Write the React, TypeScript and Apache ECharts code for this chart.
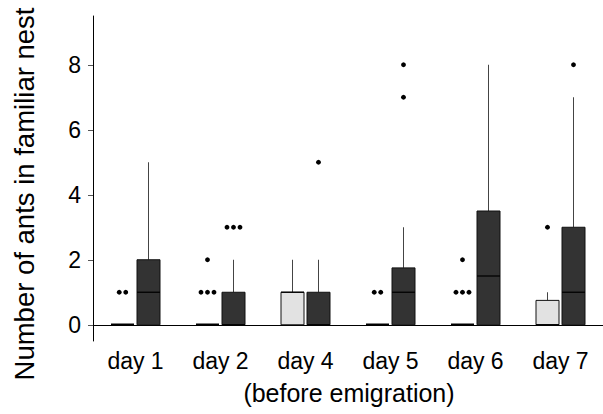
import React, { useEffect, useRef } from "react";
import * as echarts from "echarts";

const categories = ["day 1", "day 2", "day 4", "day 5", "day 6", "day 7"];
// [min, q1, median, q3, max]
const lightBoxes = [
  [0, 0, 0, 0, 0],
  [0, 0, 0, 0, 0],
  [0, 0, 1, 1, 2],
  [0, 0, 0, 0, 0],
  [0, 0, 0, 0, 0],
  [0, 0, 0, 0.75, 1],
];
const darkBoxes = [
  [0, 0, 1, 2, 5],
  [0, 0, 0, 1, 2],
  [0, 0, 0, 1, 2],
  [0, 0, 1, 1.75, 3],
  [0, 0, 1.5, 3.5, 8],
  [0, 0, 1, 3, 7],
];
const lightOutliers = [[1, 1], [1, 1, 1, 2], [], [1, 1], [1, 1, 1, 2], [3]];
const darkOutliers = [[], [3, 3, 3], [5], [7, 8], [], [8]];
const yTicks = [0, 2, 4, 6, 8];
const yTitle = "Number of ants in familiar nest";
const xTitle = "(before emigration)";

const FONT = "'Liberation Sans', Arial, sans-serif";
const SIDE_OFFSET = 13;
const HALF_W = 11.5;

function buildBoxData() {
  const out: number[][] = [];
  lightBoxes.forEach((b, i) => out.push([i, ...b, -1]));
  darkBoxes.forEach((b, i) => out.push([i, ...b, 1]));
  return out;
}

function buildOutlierData() {
  const out: number[][] = [];
  const add = (lists: number[][], side: number) => {
    lists.forEach((list, i) => {
      const counts: Record<string, number> = {};
      list.forEach((v) => (counts[v] = (counts[v] || 0) + 1));
      const seen: Record<string, number> = {};
      list.forEach((v) => {
        const j = seen[v] || 0;
        seen[v] = j + 1;
        out.push([i, v, side, j, counts[v]]);
      });
    });
  };
  add(lightOutliers, -1);
  add(darkOutliers, 1);
  return out;
}

export default function App() {
  const ref = useRef<HTMLDivElement>(null);
  useEffect(() => {
    const chart = echarts.init(ref.current!, null, { renderer: "svg" });
    const renderBox = (params: any, api: any) => {
      const cat = api.value(0);
      const [mn, q1, med, q3, mx] = [1, 2, 3, 4, 5].map((k) => api.value(k));
      const side = api.value(6);
      const c = api.coord([cat, 0]);
      const cx = c[0] + side * SIDE_OFFSET;
      const y = (v: number) => api.coord([cat, v])[1];
      const fill = side < 0 ? "#e2e2e2" : "#333333";
      const children: any[] = [];
      if (q1 === q3 && mn === mx) {
        children.push({
          type: "line",
          shape: { x1: cx - HALF_W, y1: y(q1), x2: cx + HALF_W, y2: y(q1) },
          style: { stroke: "#000", lineWidth: 2.5 },
        });
      } else {
        children.push({
          type: "line",
          shape: { x1: cx, y1: y(q3), x2: cx, y2: y(mx) },
          style: { stroke: "#444", lineWidth: 1 },
        });
        if (mn < q1) {
          children.push({
            type: "line",
            shape: { x1: cx, y1: y(q1), x2: cx, y2: y(mn) },
            style: { stroke: "#444", lineWidth: 1 },
          });
        }
        children.push({
          type: "rect",
          shape: { x: cx - HALF_W, y: y(q3), width: HALF_W * 2, height: y(q1) - y(q3) },
          style: { fill, stroke: "#111", lineWidth: 1 },
        });
        children.push({
          type: "line",
          shape: { x1: cx - HALF_W, y1: y(med), x2: cx + HALF_W, y2: y(med) },
          style: { stroke: "#000", lineWidth: 1.3 },
        });
      }
      return { type: "group", children };
    };
    const renderOutlier = (params: any, api: any) => {
      const cat = api.value(0);
      const v = api.value(1);
      const side = api.value(2);
      const j = api.value(3);
      const n = api.value(4);
      const p = api.coord([cat, v]);
      const cx = p[0] + side * SIDE_OFFSET + (j - (n - 1) / 2) * 6.5;
      return {
        type: "circle",
        shape: { cx, cy: p[1], r: 2.4 },
        style: { fill: "#000" },
      };
    };
    chart.setOption({
      animation: false,
      backgroundColor: "#fff",
      grid: { left: 93, top: 16, right: -6, bottom: 73, containLabel: false },
      xAxis: {
        type: "category",
        data: categories,
        boundaryGap: true,
        axisLine: { lineStyle: { color: "#000", width: 1 } },
        axisTick: { alignWithLabel: true, length: 4, lineStyle: { color: "#555" } },
        axisLabel: { color: "#000", fontSize: 23, fontFamily: FONT, margin: 8 },
        splitLine: { show: false },
      },
      yAxis: {
        type: "value",
        min: -0.5,
        max: 9.5,
        axisLine: { show: true, lineStyle: { color: "#000", width: 1 } },
        axisTick: { show: true, length: 5, customValues: yTicks, lineStyle: { color: "#555" } },
        axisLabel: {
          color: "#000",
          fontSize: 23,
          fontFamily: FONT,
          margin: 12,
          customValues: yTicks,
        },
        splitLine: { show: false },
      },
      graphic: [
        {
          type: "text",
          x: 24,
          y: 194,
          rotation: Math.PI / 2,
          style: {
            text: yTitle,
            fontSize: 27.5,
            fontFamily: FONT,
            fill: "#000",
            textAlign: "center",
            textVerticalAlign: "middle",
          },
        },
        {
          type: "text",
          x: 349,
          y: 393,
          style: {
            text: xTitle,
            fontSize: 25,
            fontFamily: FONT,
            fill: "#000",
            textAlign: "center",
            textVerticalAlign: "middle",
          },
        },
      ],
      series: [
        {
          type: "custom",
          renderItem: renderBox,
          data: buildBoxData(),
          clip: false,
          encode: { x: 0, y: [1, 5] },
        },
        {
          type: "custom",
          renderItem: renderOutlier,
          data: buildOutlierData(),
          clip: false,
          encode: { x: 0, y: 1 },
          z: 3,
        },
      ],
    });
    return () => chart.dispose();
  }, []);
  return <div ref={ref} style={{ width: 603, height: 414, position: "absolute", left: 0, top: 0 }} />;
}
